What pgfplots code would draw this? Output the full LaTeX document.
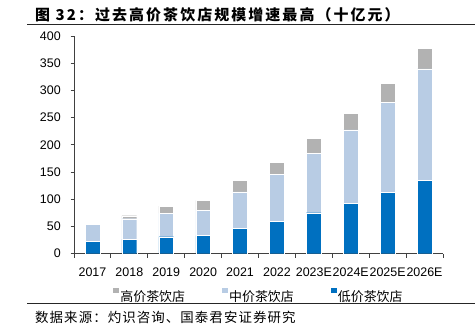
\documentclass[border=0pt]{standalone}
\usepackage{fontspec}
\setmainfont{Liberation Sans}
\newfontfamily\cjk{Noto Sans CJK SC}
\newfontfamily\cjkt{Noto Sans CJK SC}[LetterSpace=14]
\newfontfamily\cjks{Noto Sans CJK SC}[LetterSpace=8]
\usepackage{pgfplots}
\pgfplotsset{compat=1.18}
\definecolor{lowc}{HTML}{0070C0}
\definecolor{midc}{HTML}{B8CCE4}
\definecolor{highc}{HTML}{B2B2B2}
\definecolor{axc}{HTML}{404040}
\begin{document}
\begin{tikzpicture}
\useasboundingbox (0bp,0bp) rectangle (475bp,327bp);
\node[anchor=base west, font=\cjkt\bfseries\fontsize{15}{17}\selectfont, inner sep=0] at (35bp,306.5bp) {图 32：过去高价茶饮店规模增速最高（十亿元）};
\draw[line width=1.5bp, black!85] (27bp,302.3bp) -- (475bp,302.3bp);
\draw[line width=1.2bp, black!85] (27bp,23.3bp) -- (475bp,23.3bp);
\node[anchor=base west, font=\cjks\fontsize{13.5}{16}\selectfont, inner sep=0] at (35bp,4.5bp) {数据来源：灼识咨询、国泰君安证券研究};
\begin{axis}[
  at={(74bp,73.3bp)}, anchor=south west,
  scale only axis, width=369bp, height=217.7bp,
  xmin=-0.5, xmax=9.5, ymin=0, ymax=400,
  axis x line*=bottom, axis y line*=left,
  axis line style={axc, line width=0.8bp},
  ybar stacked, bar width=0.4,
  ytick={0,50,...,400},
  xtick={0,...,9},
  xticklabels={2017,2018,2019,2020,2021,2022,2023E,2024E,2025E,2026E},
  minor xtick={-0.5,0.5,...,9.5},
  major x tick style={draw=none},
  tick align=outside,
  major tick length=3.3bp, minor tick length=4bp,
  tick style={axc, line width=0.8bp},
  tick label style={font=\fontsize{12.5}{14}\selectfont},
  /pgf/number format/assume math mode=true,
  yticklabel style={xshift=-6.5bp},
  xticklabel style={yshift=-7bp},
  legend style={at={(0.5,0)}, anchor=north, yshift=-32bp, draw=none, fill=none,
    legend columns=3, font=\cjk\fontsize{13}{15}\selectfont,
    nodes={inner sep=1bp},
    /tikz/every even column/.append style={column sep=36bp}},
  legend image code/.code={\fill[#1] (0bp,3bp) rectangle (6bp,8.5bp);},
]
\addlegendimage{fill=highc, draw=none}
\addlegendentry{高价茶饮店}
\addlegendimage{fill=midc, draw=none}
\addlegendentry{中价茶饮店}
\addlegendimage{fill=lowc, draw=none}
\addlegendentry{低价茶饮店}
\addplot[fill=lowc, draw=white, line width=0.4bp, forget plot] coordinates {(0,22.7) (1,27.0) (2,31.2) (3,33.1) (4,46.6) (5,58.8) (6,75.3) (7,91.9) (8,112.1) (9,135.4)};
\addplot[fill=midc, draw=white, line width=0.4bp, forget plot] coordinates {(0,31.2) (1,37.3) (2,43.5) (3,47.1) (4,67.0) (5,87.6) (6,109.7) (7,135.4) (8,166.6) (9,204.0)};
\addplot[fill=highc, draw=white, line width=0.4bp, forget plot] coordinates {(0,1.8) (1,5.5) (2,12.9) (3,17.8) (4,21.8) (5,21.4) (6,27.0) (7,30.6) (8,34.3) (9,37.9)};
\end{axis}
\end{tikzpicture}
\end{document}
